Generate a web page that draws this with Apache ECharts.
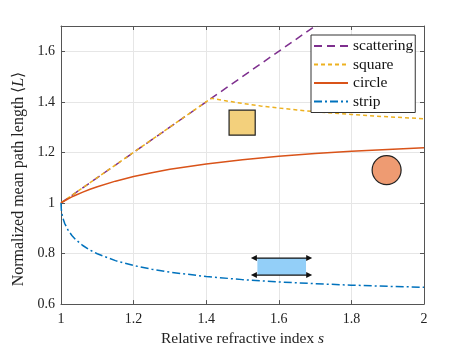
<!DOCTYPE html>
<html>
<head>
<meta charset="utf-8">
<script src="https://cdn.jsdelivr.net/npm/echarts@6/dist/echarts.min.js"></script>
<style>
  html, body { margin: 0; padding: 0; background: #fff; }
  #chart { width: 469px; height: 352px; }
</style>
</head>
<body>
<div id="chart"></div>
<script>
// refractive index samples (x) for circle and strip curves
var sValues = [1, 1.001, 1.002, 1.005, 1.01, 1.02, 1.03, 1.04, 1.06, 1.08, 1.1, 1.15, 1.2, 1.25, 1.3, 1.4, 1.5, 1.6, 1.7, 1.8, 1.9, 2];
var circleValues = [1, 1.001, 1.0019, 1.0046, 1.0088, 1.0167, 1.0239, 1.0306, 1.0430, 1.0542, 1.0643, 1.0863, 1.1045, 1.1199, 1.1331, 1.1546, 1.1714, 1.1846, 1.1954, 1.2043, 1.2117, 1.2180];
var stripValues = [1, 0.9725, 0.9617, 0.9412, 0.9195, 0.8912, 0.8714, 0.8558, 0.8318, 0.8137, 0.7991, 0.7719, 0.7526, 0.7379, 0.7263, 0.7091, 0.6968, 0.6877, 0.6806, 0.6750, 0.6704, 0.6667];

var squareS = [1, 1.4142, 1.42, 1.45, 1.5, 1.55, 1.6, 1.65, 1.7, 1.8, 1.9, 2];
var squareValues = [1, 1.4142, 1.4127, 1.4050, 1.3937, 1.3839, 1.3754, 1.3679, 1.3612, 1.3500, 1.3408, 1.3333];

var scatterS = [1, 2];
var scatterValues = [1, 2];

var seriesNames = ['scattering', 'square', 'circle', 'strip'];
var seriesColors = ['#7E2F8E', '#EDB120', '#D95319', '#0072BD'];

function pairs(xs, ys) {
    return xs.map(function (x, i) { return [x, ys[i]]; });
}

var chart = echarts.init(document.getElementById('chart'));
var serif = 'Liberation Serif';
var axisColor = '#555';
var gridColor = '#e6e6e6';

var boxAxis = {
    axisLine: { show: true, lineStyle: { color: axisColor } },
    axisTick: { show: true, inside: true, length: 4, lineStyle: { color: axisColor } },
    axisLabel: { show: false },
    splitLine: { show: false }
};

chart.setOption({
    animation: false,
    color: seriesColors,
    grid: { left: 61, right: 45, top: 26, bottom: 41.5 },
    legend: {
        orient: 'vertical',
        left: 311,
        top: 35,
        itemWidth: 34,
        itemHeight: 12,
        itemGap: 2.5,
        padding: [3, 2, 3, 2],
        backgroundColor: '#fff',
        borderColor: '#333',
        borderWidth: 1,
        itemStyle: { opacity: 0 },
        textStyle: { fontFamily: serif, fontSize: 15.5, lineHeight: 15, color: '#111' },
        data: seriesNames
    },
    xAxis: [
        {
            type: 'value', min: 1, max: 2, interval: 0.2,
            name: 'Relative refractive index {i|s}',
            nameLocation: 'middle', nameGap: 24,
            nameTextStyle: { fontFamily: serif, fontSize: 15.5, color: '#222',
                rich: { i: { fontFamily: serif, fontSize: 15.5, fontStyle: 'italic', color: '#222' } } },
            axisLine: { lineStyle: { color: axisColor } },
            axisTick: { inside: true, length: 4, lineStyle: { color: axisColor } },
            axisLabel: { fontFamily: serif, fontSize: 14, color: '#222', margin: 8 },
            splitLine: { show: true, lineStyle: { color: gridColor } }
        },
        Object.assign({ type: 'value', min: 1, max: 2, interval: 0.2, position: 'top' }, boxAxis)
    ],
    yAxis: [
        {
            type: 'value', min: 0.6, max: 1.7, interval: 0.2,
            name: 'Normalized mean path length \u27e8{i|L}\u27e9',
            nameLocation: 'middle', nameGap: 29,
            nameTextStyle: { fontFamily: serif, fontSize: 16, color: '#222', padding: [0, 28, 0, 0],
                rich: { i: { fontFamily: serif, fontSize: 16, fontStyle: 'italic', color: '#222' } } },
            axisLine: { show: true, lineStyle: { color: axisColor } },
            axisTick: { show: true, inside: true, length: 4, lineStyle: { color: axisColor } },
            axisLabel: { fontFamily: serif, fontSize: 14, color: '#222', margin: 6, showMaxLabel: false },
            splitLine: { show: true, lineStyle: { color: gridColor } }
        },
        Object.assign({ type: 'value', min: 0.6, max: 1.7, interval: 0.2, position: 'right' }, boxAxis)
    ],
    series: [
        {
            name: 'scattering', type: 'line', symbol: 'none', showSymbol: false,
            lineStyle: { width: 1.5, type: [8, 5] },
            data: pairs(scatterS, scatterValues)
        },
        {
            name: 'square', type: 'line', symbol: 'none', showSymbol: false,
            lineStyle: { width: 1.5, type: [4, 3] },
            data: pairs(squareS, squareValues)
        },
        {
            name: 'circle', type: 'line', symbol: 'none', showSymbol: false,
            lineStyle: { width: 1.5 },
            data: pairs(sValues, circleValues)
        },
        {
            name: 'strip', type: 'line', symbol: 'none', showSymbol: false,
            lineStyle: { width: 1.5, type: [8, 3, 2, 3] },
            data: pairs(sValues, stripValues)
        }
    ]
});

// inset shapes, placed in data coordinates
function px(x, y) {
    return chart.convertToPixel({ seriesIndex: 0 }, [x, y]);
}

var sq1 = px(1.463, 1.367), sq2 = px(1.535, 1.268);
var cc = px(1.897, 1.130);
var st1 = px(1.541, 0.782), st2 = px(1.675, 0.715);
var arL = px(1.523, 0), arR = px(1.692, 0);

function arrowLine(y) {
    var h = 3, len = 6;
    return [
        { type: 'line', shape: { x1: arL[0] + 2, y1: y, x2: arR[0] - 2, y2: y },
          style: { stroke: '#111', lineWidth: 1.3 }, z: 10 },
        { type: 'polygon', shape: { points: [[arL[0], y], [arL[0] + len, y - h], [arL[0] + len, y + h]] },
          style: { fill: '#111' }, z: 10 },
        { type: 'polygon', shape: { points: [[arR[0], y], [arR[0] - len, y - h], [arR[0] - len, y + h]] },
          style: { fill: '#111' }, z: 10 }
    ];
}

var graphics = [
    { type: 'rect', shape: { x: sq1[0], y: sq1[1], width: sq2[0] - sq1[0], height: sq2[1] - sq1[1] },
      style: { fill: '#F3D07C', stroke: '#222', lineWidth: 1.2 }, z: 10 },
    { type: 'circle', shape: { cx: cc[0], cy: cc[1], r: 14.5 },
      style: { fill: '#EE9B72', stroke: '#222', lineWidth: 1.2 }, z: 10 },
    { type: 'rect', shape: { x: st1[0], y: st1[1], width: st2[0] - st1[0], height: st2[1] - st1[1] },
      style: { fill: '#93CFF8' }, z: 9 }
].concat(arrowLine(st1[1]), arrowLine(st2[1]));

chart.setOption({ graphic: graphics });
</script>
</body>
</html>
